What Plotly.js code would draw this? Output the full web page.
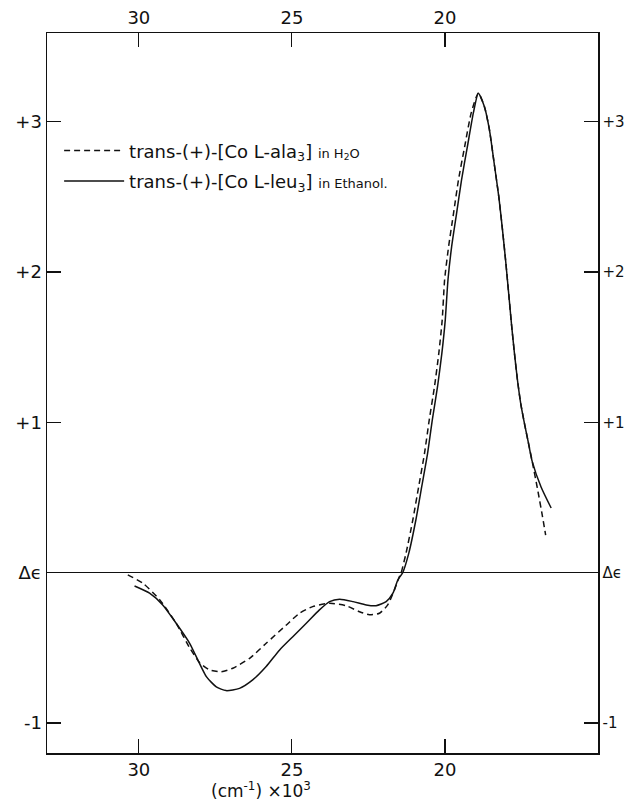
<!DOCTYPE html>
<html>
<head>
<meta charset="utf-8">
<script src="https://cdn.plot.ly/plotly-3.0.1.min.js"></script>
<style>html,body{margin:0;padding:0;background:#fff;}#chart{width:624px;height:803px;}</style>
</head>
<body>
<div id="chart"></div>
<script>
// trans-(+)-[Co L-ala3] in H2O (dashed)
const alaX = [30.36, 29.87, 29.32, 28.78, 28.34, 28.01, 27.69, 27.31, 26.93, 26.38, 25.84, 25.19, 24.75, 24.32, 23.77, 23.23, 22.79, 22.47, 22.14, 21.87, 21.65, 21.49, 21.43, 21.27, 21.05, 20.86, 20.67, 20.51, 20.34, 20.20, 20.09, 20.01, 19.88, 19.72, 19.56, 19.36, 19.14, 18.91, 18.71, 18.55, 18.39, 18.24, 18.12, 18.01, 17.91, 17.82, 17.73, 17.63, 17.52, 17.40, 17.28, 17.15, 16.97, 16.81, 16.71];
const alaY = [-0.015, -0.07, -0.18, -0.337, -0.50, -0.60, -0.647, -0.66, -0.636, -0.57, -0.47, -0.35, -0.27, -0.226, -0.204, -0.22, -0.26, -0.28, -0.27, -0.215, -0.115, -0.027, 0.0, 0.13, 0.35, 0.57, 0.79, 1.02, 1.24, 1.46, 1.68, 1.95, 2.17, 2.39, 2.61, 2.83, 3.06, 3.19, 3.10, 2.95, 2.72, 2.50, 2.28, 2.06, 1.84, 1.64, 1.46, 1.28, 1.12, 0.99, 0.87, 0.74, 0.55, 0.37, 0.25];

// trans-(+)-[Co L-leu3] in Ethanol (solid)
const leuX = [30.14, 29.65, 29.22, 28.78, 28.34, 27.80, 27.47, 27.15, 26.71, 26.28, 25.84, 25.40, 24.97, 24.53, 24.10, 23.77, 23.44, 23.00, 22.57, 22.25, 21.92, 21.70, 21.54, 21.38, 21.18, 20.95, 20.76, 20.57, 20.41, 20.24, 20.10, 19.99, 19.90, 19.78, 19.62, 19.46, 19.27, 19.07, 18.91, 18.71, 18.55, 18.39, 18.24, 18.12, 18.01, 17.91, 17.82, 17.73, 17.63, 17.52, 17.40, 17.28, 17.15, 16.86, 16.53];
const leuY = [-0.089, -0.137, -0.215, -0.337, -0.47, -0.69, -0.76, -0.785, -0.77, -0.714, -0.625, -0.514, -0.426, -0.337, -0.248, -0.193, -0.177, -0.193, -0.215, -0.22, -0.193, -0.137, -0.049, 0.0, 0.13, 0.35, 0.57, 0.79, 1.02, 1.24, 1.46, 1.68, 1.95, 2.17, 2.39, 2.61, 2.83, 3.06, 3.19, 3.10, 2.95, 2.72, 2.50, 2.28, 2.06, 1.84, 1.64, 1.46, 1.28, 1.12, 0.99, 0.87, 0.74, 0.57, 0.43];

const xTickVals = [30, 25, 20];
const xTickText = ['30', '25', '20'];
const yTickVals = [-1, 0, 1, 2, 3];
const yTickText = ['-1', 'Δϵ', '+1', '+2', '+3'];

const FONT = 'DejaVu Sans, sans-serif';

const traces = [
  {
    x: alaX, y: alaY, type: 'scatter', mode: 'lines', legendgroup: 'a',
    line: {shape: 'spline', smoothing: 0.6, color: '#111', width: 1.5, dash: '6px,4px'},
    name: 'trans-(+)-[Co L-ala<sub>3</sub>] <span style="font-size:13px">in H<sub>2</sub>O</span>'
  },
  {
    x: leuX, y: leuY, type: 'scatter', mode: 'lines', legendgroup: 'b',
    line: {shape: 'spline', smoothing: 0.6, color: '#111', width: 1.5},
    name: 'trans-(+)-[Co L-leu<sub>3</sub>] <span style="font-size:13px">in Ethanol.</span>'
  },
  {x: [], y: [], xaxis: 'x2', yaxis: 'y2', showlegend: false, hoverinfo: 'skip', type: 'scatter', mode: 'lines'}
];

const axisCommon = {
  showgrid: false, zeroline: false, showline: true, linecolor: '#111', linewidth: 1.5,
  ticks: 'inside', ticklen: 14, tickwidth: 1.2, tickcolor: '#111',
  tickfont: {family: FONT, size: 18, color: '#111'}, tickmode: 'array', fixedrange: true
};

const layout = {
  width: 624, height: 803,
  margin: {l: 47, r: 26, t: 33, b: 50},
  paper_bgcolor: '#fff', plot_bgcolor: '#fff',
  font: {family: FONT, color: '#111'},
  showlegend: true,
  legend: {
    x: 0.022, y: 0.862, xanchor: 'left', yanchor: 'top',
    bgcolor: 'rgba(0,0,0,0)', font: {family: FONT, size: 18, color: '#111'},
    itemwidth: 60, tracegroupgap: 4
  },
  xaxis: Object.assign({}, axisCommon, {range: [33, 15], tickvals: xTickVals, ticktext: xTickText, side: 'bottom', mirror: false}),
  xaxis2: Object.assign({}, axisCommon, {range: [33, 15], tickvals: xTickVals, ticktext: xTickText, side: 'top', overlaying: 'x', anchor: 'y'}),
  yaxis: Object.assign({}, axisCommon, {range: [-1.2, 3.59], tickvals: yTickVals, ticktext: yTickText, side: 'left', zeroline: true, zerolinecolor: '#111', zerolinewidth: 1.5}),
  yaxis2: Object.assign({}, axisCommon, {range: [-1.2, 3.59], tickvals: yTickVals, ticktext: yTickText, side: 'right', overlaying: 'y', anchor: 'x', tickfont: {family: FONT, size: 15, color: '#111'}, ticklabelstandoff: 0}),
  annotations: [
    {text: '(cm<sup>-1</sup>) ×10<sup>3</sup>', xref: 'x', yref: 'paper', x: 26.0, y: -0.052, xanchor: 'center', yanchor: 'middle', showarrow: false, font: {family: FONT, size: 17, color: '#111'}}
  ]
};

Plotly.newPlot('chart', traces, layout, {displayModeBar: false, staticPlot: true});
</script>
</body>
</html>
